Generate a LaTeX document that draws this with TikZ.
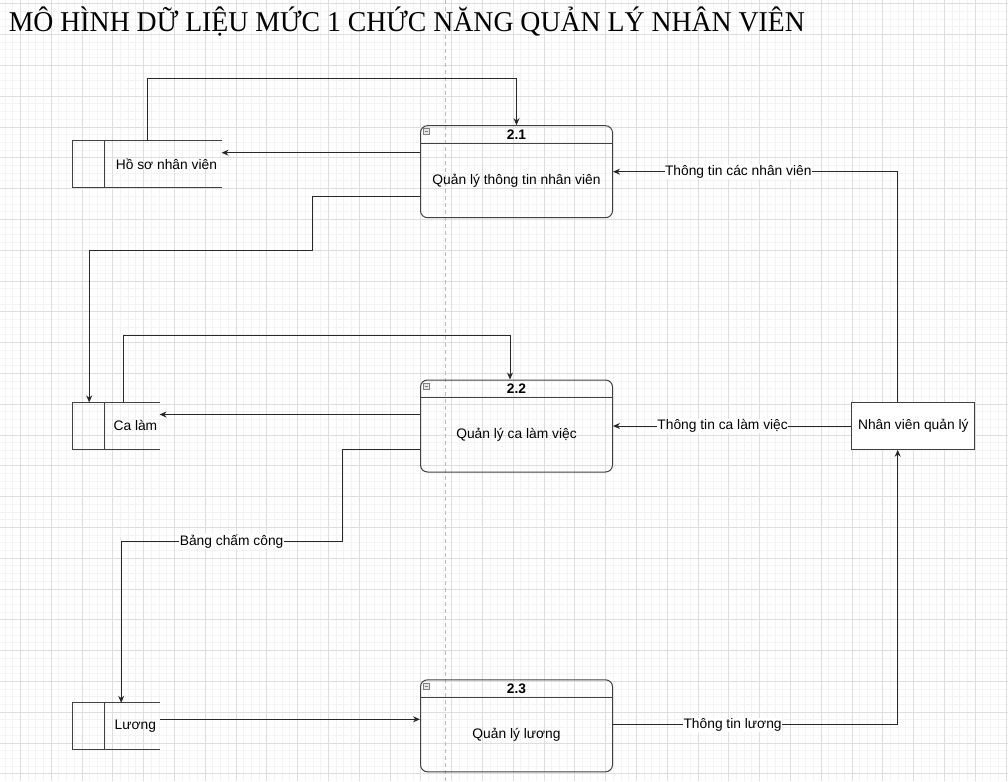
\documentclass[tikz,border=0pt]{standalone}
\usepackage{fontspec}
\setmainfont{Liberation Sans}
\newfontfamily\titlefont{Liberation Serif}
\usetikzlibrary{arrows.meta,calc}
\definecolor{grid_minor}{RGB}{243,243,243}
\definecolor{grid_major}{RGB}{222,222,222}
\definecolor{page_gray}{RGB}{185,185,185}
\definecolor{box_gray}{RGB}{65,65,65}
\definecolor{edge_gray}{RGB}{40,40,40}

\begin{document}
\begin{tikzpicture}[x=1pt,y=-1pt,line width=1pt,>={Stealth[length=7pt,width=6pt]},font=\fontsize{13.8}{16}\selectfont]
    \tikzstyle{proc}=[draw=box_gray, rounded corners=7pt, minimum width=192pt, minimum height=92pt, inner sep=0pt]
    \tikzstyle{store}=[draw=none, minimum height=46pt, inner sep=0pt]
    \tikzstyle{ent}=[draw=box_gray, fill=white, minimum width=123pt, minimum height=46.5pt, inner sep=0pt]
    \tikzstyle{flow}=[->, draw=edge_gray]
    \tikzstyle{lbl}=[fill=white, inner sep=0.5pt, text=black]
    \tikzstyle{icon}=[draw=gray, fill=gray!20, line width=0.6pt, minimum size=6pt, inner sep=0pt]

    % background grid and page break
    \useasboundingbox (0,0) rectangle (1008,781);
    \fill[white] (0,0) rectangle (1008,781);
    \foreach \i in {0,...,130} \draw[grid_minor,line width=0.8pt] ({4.9+7.7*\i},0) -- ++(0,781);
    \foreach \i in {0,...,100} \draw[grid_minor,line width=0.8pt] (0,{3.7+7.7*\i}) -- ++(1008,0);
    \foreach \i in {0,...,32} \draw[grid_major,line width=0.8pt] ({20.3+30.8*\i},0) -- ++(0,781);
    \foreach \i in {0,...,25} \draw[grid_major,line width=0.8pt] (0,{3.7+30.8*\i}) -- ++(1008,0);
    \draw[page_gray,line width=0.8pt,dash pattern=on 4pt off 3pt] (445.7,0) -- (445.7,781);

    \node[anchor=base west, inner sep=0pt, font=\titlefont\fontsize{28.7}{32}\selectfont] (title) at (8.3,31.7) {\scalebox{0.967}[1]{MÔ HÌNH DỮ LIỆU MỨC 1 CHỨC NĂNG QUẢN LÝ NHÂN VIÊN}};

    % processes
    \node[proc] (p1) at (516.5,171.7) {};
    \node[proc] (p2) at (516.5,426)   {};
    \node[proc] (p3) at (516.5,725.8) {};
    \foreach \p/\n/\t in {p1/2.1/Quản lý thông tin nhân viên, p2/2.2/Quản lý ca làm việc, p3/2.3/Quản lý lương} {
        \draw[box_gray] ([yshift=-18.3]\p.north west) -- ([yshift=-18.3]\p.north east);
        \node[font=\fontsize{13.8}{16}\bfseries] (\p-t) at ([yshift=-9.2]\p.north) {\n};
        \node (\p-b) at ([yshift=-9.2]\p.center) {\t};
        \node[icon] (\p-i) at ([xshift=6.3,yshift=-6.5]\p.north west) {};
        \draw[gray,line width=0.6pt] ([xshift=-1.8]\p-i.center) -- ([xshift=1.8]\p-i.center);
    }

    % data stores
    \node[store, minimum width=147.7pt] (hs) at (147.2,164)   {};
    \node[store, minimum width=85.7pt]  (cl) at (116.2,425.9) {};
    \node[store, minimum width=85.7pt]  (lg) at (116.2,726.3) {};
    \foreach \s/\t in {hs/Hồ sơ nhân viên, cl/Ca làm, lg/Lương} {
        \draw[box_gray] (\s.north east) -- (\s.north west) -- (\s.south west) -- (\s.south east);
        \draw[box_gray] ([xshift=31.4]\s.north west) -- ([xshift=31.4]\s.south west);
        \node (\s-t) at ($([xshift=31.4]\s.west)!0.5!(\s.east)+(3.5,0)$) {\t};
    }

    % external entity
    \node[ent] (nv) at (913.3,426) {Nhân viên quản lý};

    % flows
    \draw[flow] (hs.north) -- ++(0,-62) -| (p1.north);
    \draw[flow] ([yshift=19]p1.west) -- ([yshift=19]p1.west -| hs.east);
    \draw[flow] ([yshift=-24.5]p1.west) -- ++(-108,0) -- ++(0,54) -| ([xshift=-27]cl.north);
    \draw[flow] ([xshift=-15.6]nv.north) |- node[lbl,pos=0.78]{Thông tin các nhân viên} (p1.east);
    \draw[flow] (nv.west) -- node[lbl,pos=0.54]{Thông tin ca làm việc} (p2.east);
    \draw[flow] ([xshift=7]cl.north) -- ++(0,-67) -| ([xshift=-6.5]p2.north);
    \draw[flow] ([yshift=11.5]p2.west) -- ([yshift=11.5]p2.west -| cl.east);
    \draw[flow] ([yshift=-23]p2.west) -- ++(-78,0) -- ++(0,92.5) -| node[lbl,pos=0.25]{Bảng chấm công} ([xshift=5]lg.north);
    \draw[flow] ([yshift=7]lg.east) -- ([yshift=7]lg.east -| p3.west);
    \draw[flow] ([yshift=1]p3.east) -| node[lbl,pos=0.21]{Thông tin lương} ([xshift=-15.6]nv.south);
\end{tikzpicture}
\end{document}
